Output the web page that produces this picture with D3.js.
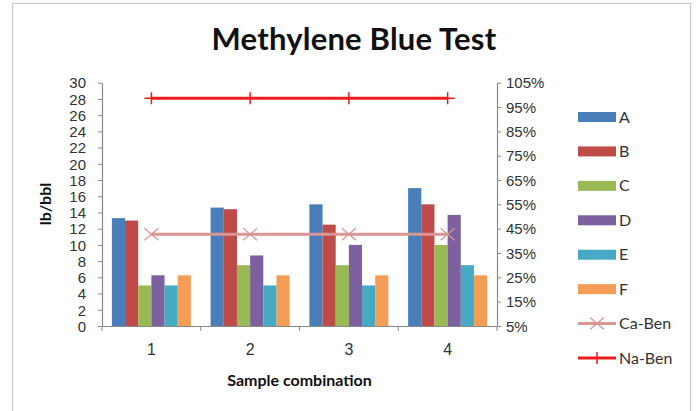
<!DOCTYPE html>
<html>
<head>
<meta charset="utf-8">
<script src="https://cdn.jsdelivr.net/npm/d3@7/dist/d3.min.js"></script>
<style>
  body { margin: 0; background: #fff; }
  svg { font-family: Lato, "Open Sans", sans-serif; }
</style>
</head>
<body>
<svg id="chart" width="699" height="411"></svg>
<script>
// data
const samples = ["1", "2", "3", "4"];
const seriesNames = ["A", "B", "C", "D", "E", "F"];
const valsA = [13.3, 14.6, 15, 17];
const valsB = [13, 14.4, 12.5, 15];
const valsC = [5, 7.5, 7.5, 10];
const valsD = [6.25, 8.7, 10, 13.7];
const valsE = [5, 5, 5, 7.5];
const valsF = [6.25, 6.25, 6.25, 6.25];
const caBen = [42.7, 42.7, 42.7, 42.7];   // secondary axis, %
const naBen = [98.6, 98.6, 98.6, 98.6];   // secondary axis, %
const leftTicks = d3.range(0, 31, 2);
const rightTicks = d3.range(5, 106, 10);

const colors = ["#4a7ebb", "#be4b48", "#98b954", "#7d60a0", "#46aac5", "#f59d56"];
const caColor = "#d99694";
const naColor = "#ee1c1c";

const svg = d3.select("#chart");
const plot = { left: 102, right: 497, top: 82.7, bottom: 326 };

// frame
svg.append("path")
  .attr("d", "M12.5,411 V3.5 H690.5 V411")
  .attr("fill", "none").attr("stroke", "#c8c8c8").attr("stroke-width", 1.2);

const x0 = d3.scaleBand().domain(samples).range([plot.left, plot.right]).padding(0);
const x1 = d3.scaleBand().domain(seriesNames).range([0, x0.bandwidth()])
  .paddingInner(0).paddingOuter(0.75);
const y = d3.scaleLinear().domain([0, 30]).range([plot.bottom, plot.top]);
const y2 = d3.scaleLinear().domain([5, 105]).range([plot.bottom, plot.top]);

const allVals = [valsA, valsB, valsC, valsD, valsE, valsF];

// bars
samples.forEach((s, i) => {
  const g = svg.append("g").attr("transform", `translate(${x0(s)},0)`);
  g.selectAll("rect")
    .data(seriesNames.map((n, k) => ({ n, v: allVals[k][i], c: colors[k] })))
    .join("rect")
    .attr("x", d => x1(d.n))
    .attr("width", x1.bandwidth())
    .attr("y", d => y(d.v))
    .attr("height", d => y(0) - y(d.v))
    .attr("fill", d => d.c);
});

// axes
const axisColor = "#8a8a8a";
const textColor = "#333";

const gl = svg.append("g").attr("transform", `translate(${plot.left},0)`)
  .call(d3.axisLeft(y).tickValues(leftTicks).tickSize(4).tickPadding(12).tickSizeOuter(0));
const gr = svg.append("g").attr("transform", `translate(${plot.right},0)`)
  .call(d3.axisRight(y2).tickValues(rightTicks).tickSize(4).tickPadding(5).tickSizeOuter(0)
    .tickFormat(d => d + "%"));
const gx = svg.append("g").attr("transform", `translate(0,${plot.bottom})`)
  .call(d3.axisBottom(x0).tickSize(0).tickPadding(18).tickSizeOuter(0));

// x-axis tick marks sit between categories
const edges = samples.map(s => x0(s)).concat([x0(samples[samples.length - 1]) + x0.bandwidth()]);
gx.selectAll("line.edge").data(edges).join("line").attr("class", "edge")
  .attr("x1", d => d).attr("x2", d => d).attr("y1", 0).attr("y2", 5)
  .attr("stroke", axisColor);

[gl, gr, gx].forEach(g => {
  g.select(".domain").attr("stroke", axisColor).attr("stroke-width", 1.2);
  g.selectAll(".tick line").attr("stroke", axisColor);
  g.selectAll("text").attr("fill", textColor).style("font-size", "15px");
});
gl.selectAll("text").attr("dy", "0.35em");
gr.selectAll("text").attr("dy", "0.35em");
gx.selectAll("text").style("font-size", "16px");

// lines on the secondary axis
const line = d3.line().x((d, i) => x0(samples[i]) + x0.bandwidth() / 2).y(d => y2(d));

svg.append("path").datum(caBen).attr("d", line)
  .attr("fill", "none").attr("stroke", caColor).attr("stroke-width", 3);
svg.selectAll("path.ca").data(caBen).join("path").attr("class", "ca")
  .attr("transform", (d, i) => `translate(${x0(samples[i]) + x0.bandwidth() / 2},${y2(d)})`)
  .attr("d", "M-7,-6L7,6M-7,6L7,-6")
  .attr("stroke", caColor).attr("stroke-width", 1.2).attr("fill", "none");

svg.append("path").datum(naBen).attr("d", line)
  .attr("fill", "none").attr("stroke", naColor).attr("stroke-width", 3);
svg.selectAll("path.na").data(naBen).join("path").attr("class", "na")
  .attr("transform", (d, i) => `translate(${x0(samples[i]) + x0.bandwidth() / 2},${y2(d)})`)
  .attr("d", "M-7,0H7M0,-6V6")
  .attr("stroke", naColor).attr("stroke-width", 1.5).attr("fill", "none");

// titles
svg.append("text").attr("x", 354).attr("y", 50).attr("text-anchor", "middle")
  .attr("font-size", 31).attr("font-weight", "bold").attr("fill", "#111")
  .attr("letter-spacing", 0.2)
  .text("Methylene Blue Test");
svg.append("text").attr("x", (plot.left + plot.right) / 2).attr("y", 386)
  .attr("text-anchor", "middle").attr("font-size", 16).attr("font-weight", "bold")
  .attr("fill", "#111").text("Sample combination");
svg.append("text").attr("transform", "translate(51,204) rotate(-90)")
  .attr("text-anchor", "middle").attr("font-size", 16).attr("font-weight", "bold")
  .attr("fill", "#111").text("lb/bbl");

// legend
const legendItems = seriesNames.map((n, k) => ({ n, type: "bar", c: colors[k] }))
  .concat([{ n: "Ca-Ben", type: "ca", c: caColor }, { n: "Na-Ben", type: "na", c: naColor }]);
const ly = d3.scalePoint().domain(legendItems.map(d => d.n)).range([117, 358]);
const lg = svg.append("g");
legendItems.forEach(d => {
  const g = lg.append("g").attr("transform", `translate(578,${ly(d.n)})`);
  if (d.type === "bar") {
    g.append("rect").attr("x", 0).attr("y", -5).attr("width", 38).attr("height", 10).attr("fill", d.c);
  } else {
    g.append("line").attr("x1", 0).attr("x2", 38).attr("stroke", d.c).attr("stroke-width", 3);
    g.append("path").attr("transform", "translate(19,0)")
      .attr("d", d.type === "ca" ? "M-7,-6L7,6M-7,6L7,-6" : "M-7,0H7M0,-6V6")
      .attr("stroke", d.c).attr("stroke-width", d.type === "ca" ? 1.2 : 1.5).attr("fill", "none");
  }
  g.append("text").attr("x", 41).attr("dy", "0.35em").attr("font-size", 16)
    .attr("fill", textColor).text(d.n);
});
</script>
</body>
</html>
